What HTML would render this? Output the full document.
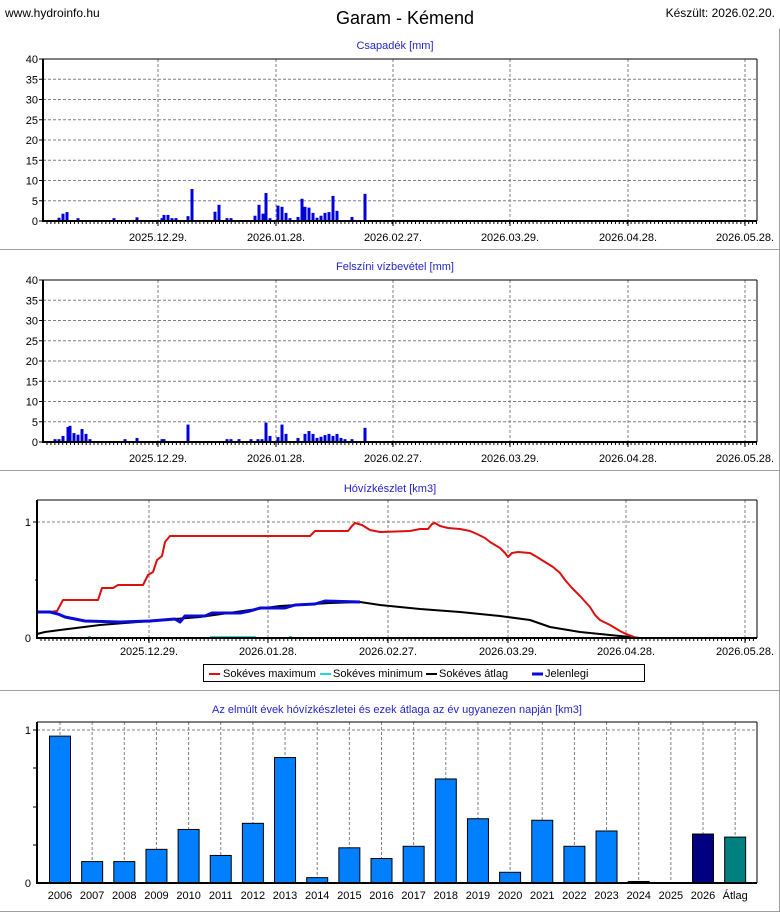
<!DOCTYPE html>
<html><head><meta charset="utf-8"><style>
html,body{margin:0;padding:0;background:#fff;}
svg{display:block;font-family:"Liberation Sans",Arial,sans-serif;}
</style></head><body>
<svg id="s" width="780" height="913" xmlns="http://www.w3.org/2000/svg"></svg>
<script>
var o='';
function L(x1,y1,x2,y2,c,w,d){o+='<line x1="'+x1+'" y1="'+y1+'" x2="'+x2+'" y2="'+y2+'" stroke="'+c+'" stroke-width="'+(w||1)+'"'+(d?' stroke-dasharray="'+d+'"':'')+'/>';}
function T(x,y,t,a,sz,c,extra){o+='<text x="'+x+'" y="'+y+'" font-size="'+(sz||11)+'" fill="'+(c||'#000')+'" text-anchor="'+(a||'start')+'" '+(extra||'')+'>'+t+'</text>';}
function R(x,y,w,h,f,s){o+='<rect x="'+x+'" y="'+y+'" width="'+w+'" height="'+h+'" fill="'+f+'"'+(s?' stroke="'+s+'" stroke-width="1"':'')+'/>';}
// header
T(5,17,'www.hydroinfo.hu','start',12);
T(405,24,'Garam - Kémend','middle',18);
T(775,17,'Készült: 2026.02.20.','end',12);
// panel separators
L(0,249.5,780,249.5,'#a0a0a0',1);L(0,470.5,780,470.5,'#a0a0a0',1);L(0,690.5,780,690.5,'#a0a0a0',1);L(0,911.5,780,911.5,'#a0a0a0',1);
L(779.5,29,779.5,912,'#a0a0a0',1);
var dates=['2025.12.29.','2026.01.28.','2026.02.27.','2026.03.29.','2026.04.28.','2026.05.28.'];
function barPanel(top,bot,title,bars){
  var x0=43,x1=757,pu=(bot-top)/40;
  T(395,top-10,title,'middle',11,'#2424c8');
  for(var v=5;v<=40;v+=5){var y=bot-v*pu;L(x0,y,x1,y,'#808080',1,'3,2');}
  var gx=[158,276,393,510,628,745];
  gx.forEach(function(x,i){L(x,top,x,bot,'#808080',1,'3,2');L(x,bot,x,bot+5,'#000',1);T(x,bot+20,dates[i],'middle',11);});
  for(var x=47;x<757;x+=3.92)L(x,bot,x,bot+3,'#000',1);
  bars.forEach(function(b){var h=b[1]*pu;R(b[0]-1.5,bot-h,3,h,'#0000dd');});
  for(var v=0;v<=40;v+=5){var y=bot-v*pu;T(38,y+4,v,'end',11);L(x0-4,y,x0,y,'#000',1);}
  L(x0,top,x1,top,'#000',1);L(x1,top,x1,bot,'#000',1);
  L(x0,top,x0,bot+1,'#000',2);L(x0,bot,x1,bot,'#000',2);
}
barPanel(59,221,'Csapadék [mm]',[[59,0.8],[63,1.8],[67,2.2],[78,0.7],[114,0.7],[137,0.9],[162,0.7],[164,1.5],[168,1.5],[172,0.7],[176,0.7],[188,1.2],[192,7.9],[215,2.3],[219,4],[227,0.7],[231,0.7],[255,1.3],[259,4],[263,1.8],[266,6.9],[270,0.7],[278,3.8],[282,3.5],[286,2],[290,0.7],[298,1],[302,5.5],[305,3.5],[309,3.3],[313,2],[317,0.8],[321,1.3],[325,2],[329,2.2],[333,6.2],[337,2.5],[352,1],[365,6.7]]);
barPanel(280,442,'Felszíni vízbevétel [mm]',[[55,0.7],[59,0.7],[63,1.5],[68,3.7],[70,4],[74,2.2],[78,1.8],[82,3.2],[86,2],[90,0.7],[125,0.7],[137,1],[162,0.7],[164,0.7],[188,4.3],[227,0.7],[231,0.7],[239,0.7],[251,0.7],[258,0.7],[262,0.7],[266,4.8],[270,1.5],[278,1.2],[282,4.3],[286,2],[298,1],[305,2],[309,2.7],[313,2],[317,1],[321,1.3],[325,1.7],[329,2],[333,1.5],[337,2],[341,1],[345,0.7],[352,0.7],[365,3.5]]);
// panel 3
(function(){
  var x0=37,x1=757,top=500,bot=638;
  T(390,492,'Hóvízkészlet [km3]','middle',11,'#2424c8');
  L(x0,522,x1,522,'#808080',1,'3,2');
  var gx=[149,268,388,508,626,745];
  gx.forEach(function(x,i){L(x,top,x,bot,'#808080',1,'3,2');L(x,bot,x,bot+5,'#000',1);T(x,bot+17,dates[i],'middle',11);});
  for(var x=41;x<757;x+=3.98)L(x,bot,x,bot+3,'#000',1);
  T(31,526,'1','end',11);T(31,642,'0','end',11);L(33,522,37,522,'#000',1);L(35,580,37,580,'#000',1);
  function P(pts,c,w){o+='<polyline fill="none" stroke="'+c+'" stroke-width="'+w+'" stroke-linejoin="round" points="'+pts.map(function(p){return p.join(',')}).join(' ')+'"/>';}
  P([[37,634],[45,632],[60,630],[100,625],[150,621],[200,617],[250,610],[280,606],[330,603],[360,602],[380,605],[420,609],[460,612],[500,616],[530,620],[550,627],[580,632],[620,636],[640,638]],'#000',2);
  P([[50,612],[57,611],[63,600],[98,600],[102,588],[113,588],[118,585],[143,585],[148,575],[153,572],[157,560],[162,556],[165,542],[170,536],[310,536],[315,531],[348,531],[352,526],[355,523],[362,525],[370,530],[380,532],[410,531],[420,529],[428,529],[432,524],[435,523],[440,526],[448,528],[460,529],[470,531],[477,534],[485,538],[490,542],[500,548],[505,553],[508,557],[512,553],[518,552],[530,553],[537,557],[545,562],[553,567],[560,573],[565,580],[572,588],[580,596],[590,607],[595,615],[600,620],[610,625],[620,631],[626,634],[637,638]],'#dd1010',2);
  P([[37,612],[50,612],[58,614],[65,617],[75,619],[85,621],[120,622],[150,621],[175,619],[180,622],[185,616],[205,616],[212,613],[240,613],[250,611],[260,608],[285,608],[295,605],[315,604],[325,601],[360,602]],'#0a0ad8',3);
  L(210,637,256,637,'#20d8d8',2);L(88,637,91,637,'#20d8d8',2);L(289,637,292,637,'#20d8d8',2);
  L(x0,top,x1,top,'#000',1);L(x1,top,x1,bot,'#000',1);
  L(x0,top,x0,bot+1,'#000',2);L(x0,bot,x1,bot,'#000',2);
  // legend
  o+='<rect x="203.5" y="664.5" width="441" height="17" fill="#fff" stroke="#000" stroke-width="1"/>';
  L(209,674,220,674,'#dd1010',2);T(223,677,'Sokéves maximum','start',11);
  L(320,674,331,674,'#20d8d8',2);T(333,677,'Sokéves minimum','start',11);
  L(426,674,437,674,'#000',2);T(439,677,'Sokéves átlag','start',11);
  L(532,674,543,674,'#0a0ad8',3);T(545,677,'Jelenlegi','start',11);
})();
// panel 4
(function(){
  var x0=37,x1=757,top=722,bot=883,pu=153;
  T(397,713,'Az elmúlt évek hóvízkészletei és ezek átlaga az év ugyanezen napján [km3]','middle',11,'#2424c8');
  L(x0,730,x1,730,'#808080',1,'3,2');
  var vals=[.96,.14,.14,.22,.35,.18,.39,.82,.035,.23,.16,.24,.68,.42,.07,.41,.24,.34,.01,0,.32,.3];
  for(var i=0;i<22;i++){
    var cx=60+i*32.15;
    L(cx,top,cx,bot,'#808080',1,'3,2');
    var lab=i<21?(2006+i):'Átlag';
    T(cx,bot+16,lab,'middle',11);
  }
  for(var i=0;i<22;i++){
    var cx=60+i*32.15,h=vals[i]*pu;if(h<=0)continue;
    var f=i==20?'#000080':(i==21?'#008080':'#0080ff');
    o+='<rect x="'+(cx-10.5)+'" y="'+(bot-h)+'" width="21" height="'+h+'" fill="'+f+'" stroke="#000" stroke-width="1"/>';
  }
  T(31,734,'1','end',11);T(31,887,'0','end',11);
  [730,768,807,845].forEach(function(y){L(33,y,37,y,'#000',1);});
  L(x0,top,x1,top,'#000',1);L(x1,top,x1,bot,'#000',1);
  L(x0,top,x0,bot+1,'#000',2);L(x0,bot,x1,bot,'#000',2);
})();
document.getElementById('s').innerHTML=o;
</script>
</body></html>
